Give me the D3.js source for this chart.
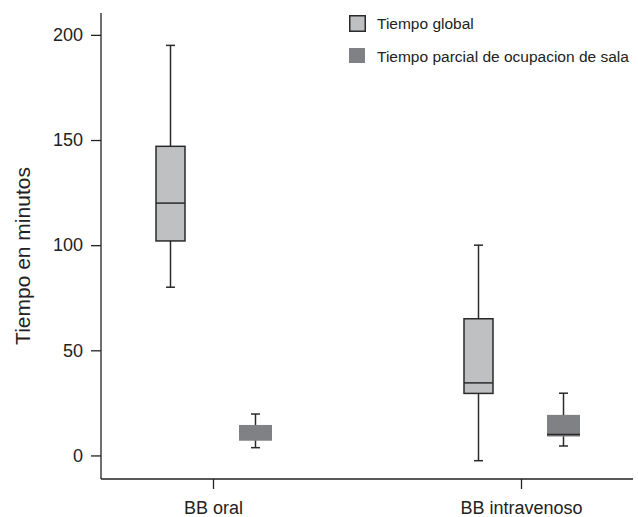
<!DOCTYPE html>
<html>
<head>
<meta charset="utf-8">
<script src="https://cdn.jsdelivr.net/npm/d3@7"></script>
<style>
  body { margin: 0; background: #fff; }
  svg { display: block; font-family: "Liberation Sans", Arial, sans-serif; }
</style>
</head>
<body>
<svg id="chart"></svg>
<script>
// groups on the x axis and the two series of boxes
const groups = ["BB oral", "BB intravenoso"];
const seriesNames = ["Tiempo global", "Tiempo parcial de ocupacion de sala"];
const yTicks = [0, 50, 100, 150, 200];

// box stats per group: [whiskerLow, q1, median, q3, whiskerHigh]
const globalStats = [
    [80, 102, 120, 147, 195],
    [-2.5, 29.5, 34.5, 65, 100]
];
const parcialStats = [
    [3.7, 7, null, 14.5, 19.7],
    [4.5, 9, 10, 19.3, 29.6]
];

const width = 638, height = 517;
const svg = d3.select("#chart").attr("width", width).attr("height", height);

const x = d3.scalePoint().domain(groups).range([213, 521]);
const xSub = d3.scalePoint().domain(seriesNames).range([-42.5, 42.5]);
const y = d3.scaleLinear().domain([-11.2, 210.4]).range([479, 13]);

const fills = { "Tiempo global": "#bfc0c2", "Tiempo parcial de ocupacion de sala": "#808184" };
const strokes = { "Tiempo global": "#2a2a2a", "Tiempo parcial de ocupacion de sala": "none" };
const boxW = { "Tiempo global": 29, "Tiempo parcial de ocupacion de sala": 33 };

// y axis
const yAxis = svg.append("g")
    .attr("transform", "translate(101,0)")
    .call(d3.axisLeft(y).tickValues(yTicks).tickSize(10).tickPadding(8));
yAxis.select(".domain").attr("d", "M0,13V479");
yAxis.selectAll("line, path").attr("stroke", "#222").attr("stroke-width", 1.3);
yAxis.selectAll(".tick text").attr("fill", "#222").style("font-size", "18px");

// x axis
const xAxis = svg.append("g")
    .attr("transform", "translate(0,479)")
    .call(d3.axisBottom(x).tickSize(10).tickPadding(12));
xAxis.select(".domain").attr("d", "M101,0H633");
xAxis.selectAll("line, path").attr("stroke", "#222").attr("stroke-width", 1.3);
xAxis.selectAll(".tick text").attr("fill", "#222").style("font-size", "18px");

// y axis label
svg.append("text")
    .attr("transform", "translate(30,256) rotate(-90)")
    .attr("text-anchor", "middle")
    .attr("fill", "#222")
    .style("font-size", "21px")
    .text("Tiempo en minutos");

// boxes
const boxes = [];
groups.forEach((g, i) => {
    boxes.push({ group: g, series: seriesNames[0], s: globalStats[i] });
    boxes.push({ group: g, series: seriesNames[1], s: parcialStats[i] });
});

const bg = svg.append("g").selectAll("g").data(boxes).join("g")
    .attr("transform", d => `translate(${x(d.group) + xSub(d.series)},0)`);

// whiskers
bg.append("line")
    .attr("x1", 0).attr("x2", 0)
    .attr("y1", d => y(d.s[0])).attr("y2", d => y(d.s[4]))
    .attr("stroke", "#2a2a2a").attr("stroke-width", 1.5);
bg.selectAll(".cap").data(d => [d.s[0], d.s[4]]).join("line")
    .attr("class", "cap")
    .attr("x1", -4.5).attr("x2", 4.5)
    .attr("y1", v => y(v)).attr("y2", v => y(v))
    .attr("stroke", "#2a2a2a").attr("stroke-width", 1.5);

// box
bg.append("rect")
    .attr("x", d => -boxW[d.series] / 2)
    .attr("width", d => boxW[d.series])
    .attr("y", d => y(d.s[3]))
    .attr("height", d => y(d.s[1]) - y(d.s[3]))
    .attr("fill", d => fills[d.series])
    .attr("stroke", d => strokes[d.series])
    .attr("stroke-width", 1.5);

// median
bg.filter(d => d.s[2] != null).append("line")
    .attr("x1", d => -boxW[d.series] / 2).attr("x2", d => boxW[d.series] / 2)
    .attr("y1", d => y(d.s[2])).attr("y2", d => y(d.s[2]))
    .attr("stroke", "#2a2a2a").attr("stroke-width", 1.5);

// legend
const legend = svg.append("g").selectAll("g").data(seriesNames).join("g")
    .attr("transform", (d, i) => `translate(349,${15 + i * 33})`);
legend.append("rect")
    .attr("x", d => d === seriesNames[0] ? 0.75 : 0)
    .attr("y", d => d === seriesNames[0] ? 0.75 : 0)
    .attr("width", d => d === seriesNames[0] ? 15.5 : 16)
    .attr("height", d => d === seriesNames[0] ? 15.5 : 15)
    .attr("fill", d => fills[d])
    .attr("stroke", d => strokes[d])
    .attr("stroke-width", 1.5);
legend.append("text")
    .attr("x", 28).attr("y", 13.5)
    .attr("fill", "#222")
    .style("font-size", "15.5px")
    .text(d => d);
</script>
</body>
</html>
